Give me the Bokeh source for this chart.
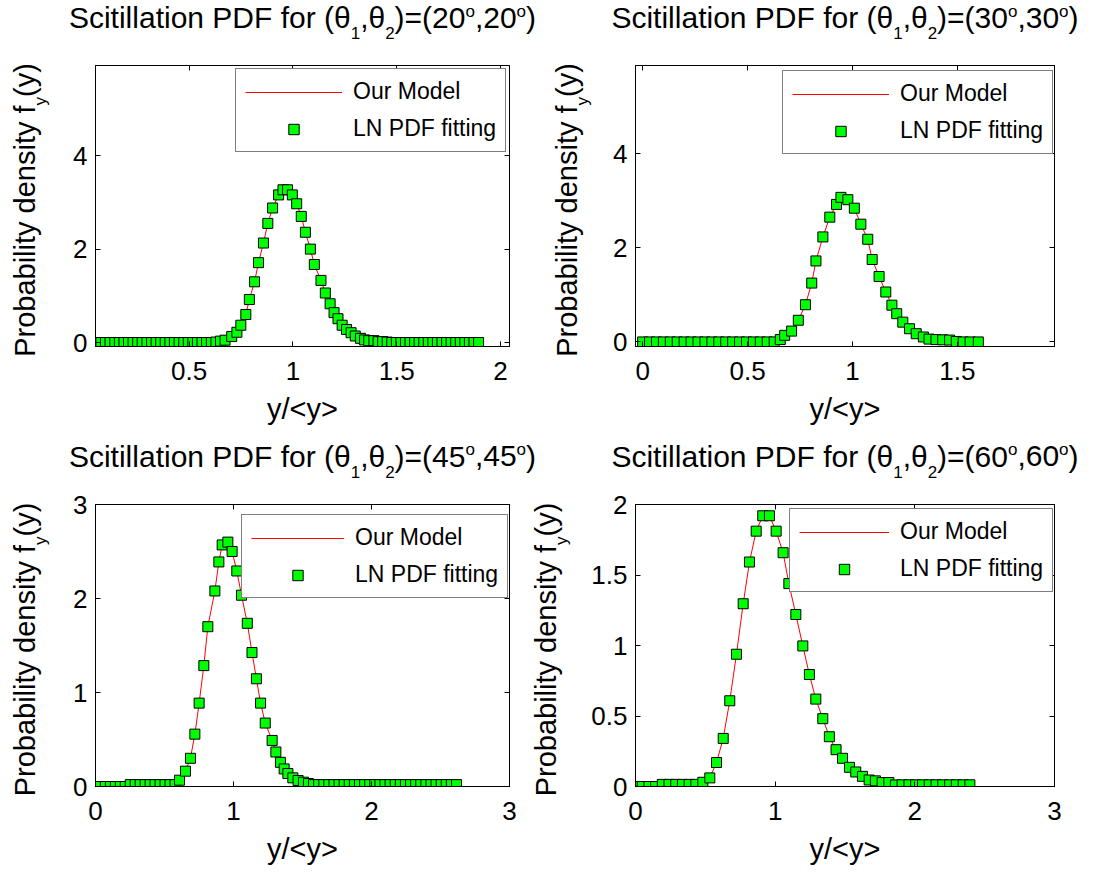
import math
from bokeh.plotting import figure
from bokeh.models import (ColumnDataSource, Range1d, FixedTicker, LinearAxis,
                          Label, Legend, LegendItem)
from bokeh.layouts import column, row
from bokeh.embed import file_html
from bokeh.resources import INLINE

# ---------------- data ----------------
angles = ["20", "30", "45", "60"]

x20 = [0.053, 0.075, 0.097, 0.119, 0.142, 0.164, 0.186, 0.208, 0.230, 0.252,
       0.274, 0.297, 0.319, 0.341, 0.363, 0.385, 0.407, 0.429, 0.452, 0.474,
       0.496, 0.518, 0.540, 0.562, 0.584, 0.607, 0.629, 0.651,
       0.673, 0.705, 0.730, 0.749, 0.773, 0.790, 0.815, 0.834, 0.858, 0.879,
       0.902, 0.931, 0.952, 0.974, 0.997, 1.018, 1.040, 1.060, 1.084, 1.103,
       1.135, 1.156, 1.179, 1.198, 1.217, 1.237, 1.258, 1.280, 1.300, 1.325,
       1.345, 1.365, 1.390, 1.410,
       1.432, 1.454, 1.476, 1.498, 1.520, 1.542, 1.564, 1.586, 1.608, 1.630,
       1.652, 1.674, 1.696, 1.718, 1.740, 1.762, 1.784, 1.806, 1.828, 1.850,
       1.872, 1.894]
y20 = [0, 0, 0, 0, 0, 0, 0, 0, 0, 0,
       0, 0, 0, 0, 0, 0, 0, 0, 0, 0,
       0, 0, 0, 0, 0, 0, 0.01, 0.03,
       0.05, 0.13, 0.22, 0.37, 0.60, 0.92, 1.30, 1.71, 2.13, 2.55,
       2.88, 3.16, 3.27, 3.27, 3.16, 2.97, 2.70, 2.36, 2.00, 1.67,
       1.33, 1.06, 0.83, 0.64, 0.51, 0.37, 0.28, 0.21, 0.14, 0.09,
       0.056, 0.04, 0.04, 0.02,
       0.02, 0.01, 0, 0, 0, 0, 0, 0, 0, 0,
       0, 0, 0, 0, 0, 0, 0, 0, 0, 0,
       0, 0]

x30 = [0.000, 0.033, 0.066, 0.099, 0.132, 0.165, 0.198, 0.231, 0.264, 0.297,
       0.330, 0.363, 0.396, 0.429, 0.462, 0.495, 0.528, 0.561, 0.594, 0.627,
       0.656, 0.677, 0.710, 0.742, 0.776, 0.806, 0.826, 0.859, 0.892, 0.924,
       0.945, 0.978, 1.009, 1.040, 1.073, 1.094, 1.127, 1.159, 1.188, 1.211,
       1.240, 1.272, 1.304, 1.338, 1.365, 1.398, 1.430,
       1.463, 1.495, 1.528, 1.561, 1.600]
y30 = [0, 0, 0, 0, 0, 0, 0, 0, 0, 0,
       0, 0, 0, 0, 0, 0, 0, 0, 0, 0,
       0.05, 0.14, 0.23, 0.46, 0.79, 1.25, 1.72, 2.23, 2.65, 2.92,
       3.07, 3.02, 2.84, 2.50, 2.18, 1.75, 1.39, 1.06, 0.78, 0.60,
       0.42, 0.28, 0.175, 0.105, 0.06, 0.05, 0.045,
       0.04, 0.01, 0, 0, 0]

x45 = [0.000, 0.036, 0.072, 0.108, 0.144, 0.180, 0.216,
       0.252, 0.288, 0.324, 0.360, 0.396, 0.432, 0.468, 0.504, 0.540, 0.576,
       0.609, 0.652, 0.688, 0.720, 0.751, 0.785, 0.814, 0.865, 0.894, 0.918,
       0.959, 0.990, 1.024, 1.058, 1.100, 1.134, 1.166, 1.196, 1.230, 1.280,
       1.307, 1.340, 1.367, 1.394, 1.430, 1.468, 1.507, 1.543,
       1.580, 1.617, 1.654, 1.691, 1.728, 1.765, 1.802, 1.839, 1.876, 1.913,
       1.950, 1.987, 2.024, 2.061, 2.098, 2.135, 2.172, 2.209, 2.246, 2.283,
       2.320, 2.357, 2.394, 2.431, 2.468, 2.505, 2.542, 2.579, 2.616]
y45 = [0, 0, 0, 0, 0, 0, 0,
       0.02, 0.02, 0.02, 0.02, 0.02, 0.02, 0.02, 0.02, 0.02, 0.02,
       0.067, 0.163, 0.30, 0.557, 0.887, 1.286, 1.70, 2.08, 2.389, 2.57,
       2.60, 2.50, 2.293, 2.035, 1.736, 1.425, 1.146, 0.887, 0.675, 0.49,
       0.367, 0.257, 0.187, 0.138, 0.092, 0.064, 0.046, 0.032,
       0.02, 0.02, 0.02, 0.02, 0.02, 0.02, 0.02, 0.02, 0.02, 0.02,
       0.02, 0.02, 0.02, 0.02, 0.02, 0.02, 0.02, 0.02, 0.02, 0.02,
       0.02, 0.02, 0.02, 0.02, 0.02, 0.02, 0.02, 0.02, 0.02]

x60 = [0.000, 0.048, 0.096, 0.144, 0.192, 0.240, 0.288, 0.336, 0.384, 0.432,
       0.482, 0.532, 0.580, 0.628, 0.675, 0.723, 0.771, 0.816, 0.864, 0.911,
       0.959, 1.007, 1.057, 1.098, 1.148, 1.198, 1.245, 1.291, 1.341, 1.388,
       1.436, 1.482, 1.532, 1.577, 1.625, 1.673, 1.718, 1.766, 1.814, 1.861,
       1.909, 1.958, 2.006, 2.055, 2.103, 2.152, 2.200, 2.249, 2.297, 2.346,
       2.394]
y60 = [0, 0, 0, 0, 0.015, 0.015, 0.015, 0.015, 0.015, 0.015,
       0.03, 0.061, 0.17, 0.341, 0.608, 0.938, 1.296, 1.592, 1.811, 1.92,
       1.92, 1.811, 1.658, 1.439, 1.22, 0.997, 0.794, 0.62, 0.481, 0.353,
       0.261, 0.20, 0.136, 0.103, 0.072, 0.046, 0.04, 0.028, 0.028, 0.011,
       0.012, 0.012, 0.012, 0.012, 0.012, 0.012, 0.012, 0.012, 0.012, 0.012,
       0.012]

xticks_20 = [0.5, 1, 1.5, 2]
xlabels_20 = ["0.5", "1", "1.5", "2"]
xticks_30 = [0, 0.5, 1, 1.5]
xlabels_30 = ["0", "0.5", "1", "1.5"]
xticks_big = [0, 1, 2, 3]
xlabels_big = ["0", "1", "2", "3"]
yticks_top = [0, 2, 4]
ylabels_top = ["0", "2", "4"]
yticks_45 = [0, 1, 2, 3]
ylabels_45 = ["0", "1", "2", "3"]
yticks_60 = [0, 0.5, 1, 1.5, 2]
ylabels_60 = ["0", "0.5", "1", "1.5", "2"]

series_names = ["Our Model", "LN PDF fitting"]
xlabel_text = "y/<y>"

# ---------------- styling helpers ----------------
FONT = "Liberation Sans"
AW = {' ': 278, '(': 333, ')': 333, ',': 278, '=': 584, '/': 278, '<': 584,
      '>': 584, '.': 278, 'P': 667, 'D': 722, 'F': 611, 'S': 667,
      'a': 556, 'b': 556, 'c': 500, 'd': 556, 'e': 556, 'f': 278, 'i': 222,
      'l': 222, 'n': 556, 'o': 556, 'r': 333, 's': 500, 't': 278, 'y': 500,
      'θ': 556}
for _d in "0123456789":
    AW[_d] = 556


def tw(s, px):
    return sum(AW.get(c, 556) for c in s) / 1000.0 * px


T_MAIN = 30      # title font
L_MAIN = 29      # axis label font
SMALL = 17       # sub / superscripts
MID = 0.34       # distance (em) from "middle" anchor down to the baseline


def text_fig(width, height):
    b = figure(width=width, height=height, x_range=Range1d(0, width),
               y_range=Range1d(0, height), output_backend="svg",
               toolbar_location=None, tools="", min_border=0,
               x_axis_type=None, y_axis_type=None)
    b.frame_align = False
    b.outline_line_color = None
    b.background_fill_color = "white"
    b.border_fill_color = "white"
    return b


def lab(b, x, y, t, size, angle=0.0):
    b.add_layout(Label(x=x, y=y, text=t, angle=angle, text_font=FONT,
                       text_font_size=f"{size}px", text_color="black",
                       text_align="left", text_baseline="middle"))


def add_title(b, ang, cx, base):
    pieces = [("Scitillation PDF for (θ", "n"), ("1", "sub"), (",θ", "n"),
              ("2", "sub"), (")=(" + ang, "n"), ("o", "sup"),
              ("," + ang, "n"), ("o", "sup"), (")", "n")]
    sizes = [T_MAIN if k == "n" else SMALL for _, k in pieces]
    widths = [tw(t, s) for (t, _), s in zip(pieces, sizes)]
    x = cx - sum(widths) / 2
    for (t, k), s, w in zip(pieces, sizes, widths):
        dy = {"n": 0, "sub": -11, "sup": 11}[k]
        lab(b, x, base + dy + MID * s, t, s)
        x += w


def add_ylabel(b, base_x, cy):
    pieces = [("Probability density f", "n"), ("y", "sub"), ("(y)", "n")]
    sizes = [L_MAIN if k == "n" else SMALL for _, k in pieces]
    widths = [tw(t, s) for (t, _), s in zip(pieces, sizes)]
    y = cy - sum(widths) / 2
    for (t, k), s, w in zip(pieces, sizes, widths):
        dx = 12 if k == "sub" else 0
        lab(b, base_x + dx - MID * s, y, t, s, angle=math.pi / 2)
        y += w


def make_panel(xs, ys, xr, yr, xt, xtl, yt, ytl, width, height,
               borders, leg_xy, glyph_w):
    bl, br, bt, bb = borders
    p = figure(width=width, height=height, x_range=Range1d(*xr),
               y_range=Range1d(*yr), output_backend="svg",
               toolbar_location=None, tools="",
               min_border_left=bl, min_border_right=br,
               min_border_top=bt, min_border_bottom=bb)
    p.frame_align = False
    p.xgrid.visible = False
    p.ygrid.visible = False
    p.outline_line_color = "black"
    p.outline_line_width = 1
    p.background_fill_color = "white"
    p.border_fill_color = "white"

    for ax, ticks, labels in ((p.xaxis[0], xt, xtl), (p.yaxis[0], yt, ytl)):
        ax.ticker = FixedTicker(ticks=ticks)
        ax.major_label_overrides = {t: l for t, l in zip(ticks, labels)}
        ax.major_tick_in = 5
        ax.major_tick_out = 0
        ax.minor_tick_line_color = None
        ax.axis_line_color = "black"
        ax.major_tick_line_color = "black"
        ax.major_label_text_font = FONT
        ax.major_label_text_font_size = "26px"
        ax.major_label_text_color = "black"
    p.xaxis[0].major_label_standoff = 15
    p.yaxis[0].major_label_standoff = 8
    p.xaxis[0].axis_label = xlabel_text
    p.xaxis[0].axis_label_text_font = FONT
    p.xaxis[0].axis_label_text_font_size = f"{L_MAIN}px"
    p.xaxis[0].axis_label_text_font_style = "normal"
    p.xaxis[0].axis_label_text_color = "black"
    p.xaxis[0].axis_label_standoff = 10

    for side, ticks in (("above", xt), ("right", yt)):
        ax = LinearAxis(ticker=FixedTicker(ticks=ticks))
        ax.major_label_overrides = {t: "" for t in ticks}
        ax.major_label_text_font_size = "1px"
        ax.major_label_text_color = None
        ax.major_tick_in = 5
        ax.major_tick_out = 0
        ax.minor_tick_line_color = None
        ax.axis_line_color = "black"
        ax.major_tick_line_color = "black"
        ax.major_label_standoff = 0
        p.add_layout(ax, side)

    src = ColumnDataSource(data=dict(x=xs, y=ys))
    ln = p.line("x", "y", source=src, line_color="red", line_width=1)
    sq = p.scatter("x", "y", source=src, marker="square", size=10,
                   fill_color="#00FF00", line_color="black", line_width=1)

    leg = Legend(items=[LegendItem(label=series_names[0], renderers=[ln]),
                        LegendItem(label=series_names[1], renderers=[sq])],
                 location=leg_xy, margin=0, padding=9, spacing=10,
                 glyph_width=glyph_w, glyph_height=26, label_height=26,
                 label_width=143, label_standoff=11,
                 border_line_color="black", border_line_width=1,
                 background_fill_color="white", background_fill_alpha=1,
                 label_text_font=FONT, label_text_font_size="23px",
                 label_text_color="black")
    p.add_layout(leg)
    return p


# ---------------- panels ----------------
H1, H2 = 372, 383
p1 = make_panel(x20, y20, (0.049, 2.043), (-0.085, 5.93),
                xticks_20, xlabels_20, yticks_top, ylabels_top,
                485, H1, (40, 31, 10, 80), (140, 194), 97)
p2 = make_panel(x30, y30, (-0.034, 1.963), (-0.097, 5.87),
                xticks_30, xlabels_30, yticks_top, ylabels_top,
                487, H1, (37, 31, 10, 80), (147, 192), 97)
p3 = make_panel(x45, y45, (0, 3), (0, 3),
                xticks_big, xlabels_big, yticks_45, ylabels_45,
                475, H2, (40, 21, 20, 80), (146, 188), 93)
p4 = make_panel(x60, y60, (0, 3), (0, 2),
                xticks_big, xlabels_big, yticks_60, ylabels_60,
                510, H2, (60, 31, 20, 80), (154, 194), 90)

# ---------------- text bands ----------------
CX_L, CX_R = 302, 844.5

top_band = text_fig(1085, 55)
add_title(top_band, angles[0], CX_L, 27.7)
add_title(top_band, angles[1], CX_R, 27.7)

mid_band = text_fig(1085, 57)
add_title(mid_band, angles[2], CX_L, 18)
add_title(mid_band, angles[3], CX_R, 18)

yl1 = text_fig(55, H1)
add_ylabel(yl1, 34, 217.5)
yl2 = text_fig(58, H1)
add_ylabel(yl2, 36, 217.5)
yl3 = text_fig(55, H2)
add_ylabel(yl3, 34, 218)
yl4 = text_fig(45, H2)
add_ylabel(yl4, 25, 218)

layout = column(top_band,
                row(yl1, p1, yl2, p2),
                mid_band,
                row(yl3, p3, yl4, p4))
open("out.html", "w").write(file_html(layout, INLINE))
